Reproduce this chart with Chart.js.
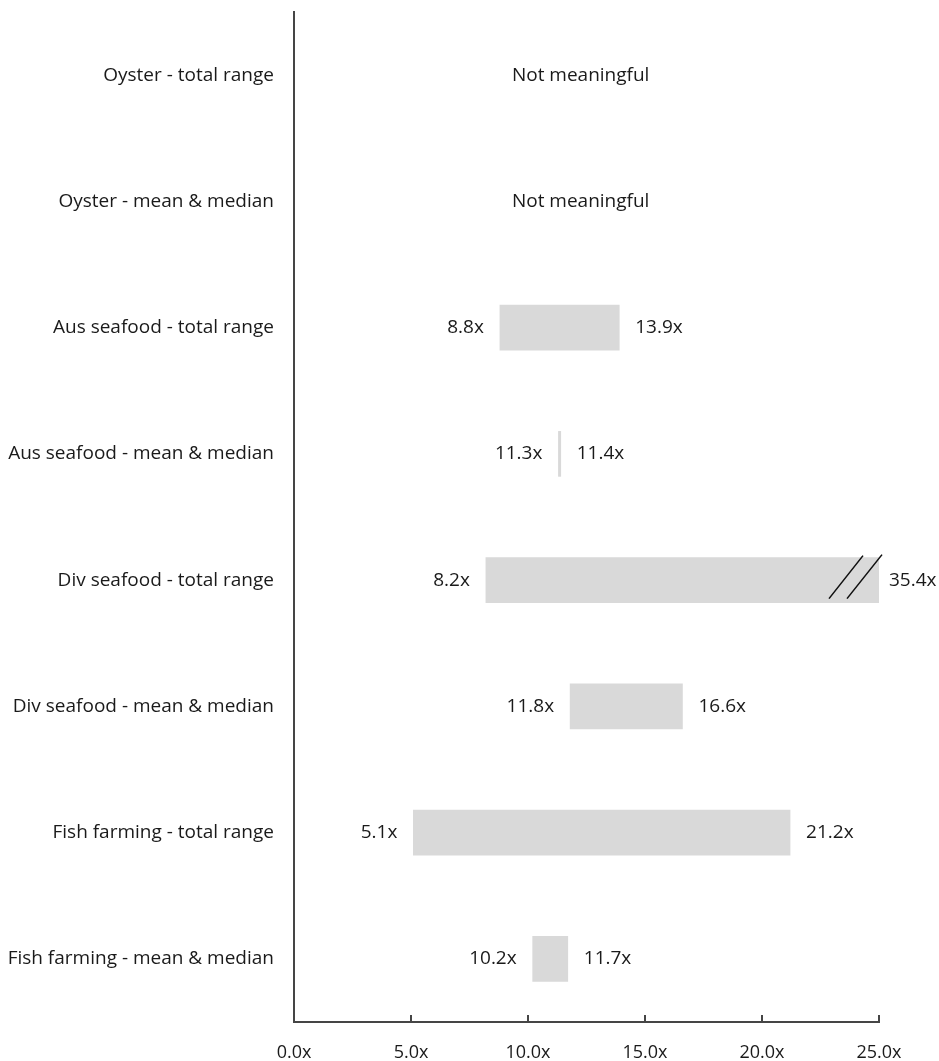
<!DOCTYPE html>
<html>
<head>
<meta charset="utf-8">
<script src="https://cdn.jsdelivr.net/npm/chart.js@4.4.1/dist/chart.umd.min.js"></script>
<style>
  html, body { margin: 0; padding: 0; background: #ffffff; }
  #wrap { width: 939px; height: 1061px; position: relative; }
</style>
</head>
<body>
<div id="wrap"><canvas id="chart"></canvas></div>
<script>
// Valuation multiples by peer group: low and high end of each range
const categories = [
  'Oyster - total range',
  'Oyster - mean & median',
  'Aus seafood - total range',
  'Aus seafood - mean & median',
  'Div seafood - total range',
  'Div seafood - mean & median',
  'Fish farming - total range',
  'Fish farming - mean & median'
];
const lowValues  = [null, null, 8.8, 11.3, 8.2, 11.8, 5.1, 10.2];
const highValues = [null, null, 13.9, 11.4, 35.4, 16.6, 21.2, 11.7];
const noDataText = 'Not meaningful';
const axisMin = 0;
const axisMax = 25;
const axisStep = 5;

const FONT = "'Open Sans', 'Noto Sans', sans-serif";
const TEXT = '#1a1a1a';
const AXIS = '#454545';

const ranges = lowValues.map((lo, i) =>
  lo === null || highValues[i] === null ? null : [lo, highValues[i]]);

const fmt = v => v.toFixed(1) + 'x';

// Labels beside each bar, "not meaningful" notes, axis-break marks and inward ticks
const rangeLabels = {
  id: 'rangeLabels',
  afterDatasetsDraw(chart) {
    const { ctx, chartArea, scales } = chart;
    const xs = scales.x;
    const meta = chart.getDatasetMeta(0);
    ctx.save();
    ctx.fillStyle = TEXT;
    ctx.textBaseline = 'middle';
    ctx.font = '19px ' + FONT;
    categories.forEach((cat, i) => {
      const yPix = scales.y.getPixelForValue(i);
      const r = ranges[i];
      if (!r) {
        ctx.textAlign = 'center';
        ctx.fillText(noDataText, xs.getPixelForValue(12.25), yPix);
        return;
      }
      const bar = meta.data[i];
      const x0 = xs.getPixelForValue(r[0]);
      const rawX1 = xs.getPixelForValue(r[1]);
      const clipped = rawX1 > chartArea.right;
      const x1 = clipped ? chartArea.right : rawX1;
      ctx.textAlign = 'right';
      ctx.fillText(fmt(r[0]), x0 - 16, yPix);
      ctx.textAlign = 'left';
      ctx.fillText(fmt(r[1]), x1 + (clipped ? 10 : 16), yPix);
      if (clipped) {
        // axis-break marks on the truncated bar
        const h = bar.height / 2;
        ctx.strokeStyle = '#111111';
        ctx.lineWidth = 1.6;
        ctx.beginPath();
        ctx.moveTo(x1 - 50, yPix + h - 4);
        ctx.lineTo(x1 - 16, yPix - h - 2);
        ctx.moveTo(x1 - 32, yPix + h - 4);
        ctx.lineTo(x1 + 3, yPix - h - 3);
        ctx.stroke();
      }
    });
    // short tick marks pointing up from the value axis
    ctx.strokeStyle = AXIS;
    ctx.lineWidth = 2;
    xs.ticks.forEach((t, k) => {
      const px = xs.getPixelForTick(k);
      ctx.beginPath();
      ctx.moveTo(px, chartArea.bottom);
      ctx.lineTo(px, chartArea.bottom - 7);
      ctx.stroke();
    });
    ctx.restore();
  }
};

new Chart(document.getElementById('chart'), {
  type: 'bar',
  data: {
    labels: categories,
    datasets: [{
      data: ranges,
      backgroundColor: '#d9d9d9',
      borderWidth: 0,
      barThickness: 45
    }]
  },
  options: {
    indexAxis: 'y',
    responsive: true,
    maintainAspectRatio: false,
    animation: false,
    devicePixelRatio: 1,
    layout: { padding: { top: 12, right: 60, left: 0, bottom: 0 } },
    plugins: {
      legend: { display: false },
      tooltip: { enabled: false }
    },
    scales: {
      x: {
        type: 'linear',
        min: axisMin,
        max: axisMax,
        afterFit(scale) { scale.height = 39; },
        grid: { display: false, drawTicks: false },
        border: { display: true, color: AXIS, width: 2 },
        ticks: {
          stepSize: axisStep,
          padding: 20,
          color: TEXT,
          font: { family: FONT, size: 18 },
          callback: v => fmt(v)
        }
      },
      y: {
        type: 'category',
        afterFit(scale) {
          scale.width = 294;
          scale.paddingTop = 0;
          scale.paddingBottom = 0;
        },
        grid: { display: false, drawTicks: false },
        border: { display: true, color: AXIS, width: 2 },
        ticks: {
          padding: 20,
          color: TEXT,
          font: { family: FONT, size: 19 }
        }
      }
    }
  },
  plugins: [rangeLabels]
});
</script>
</body>
</html>
